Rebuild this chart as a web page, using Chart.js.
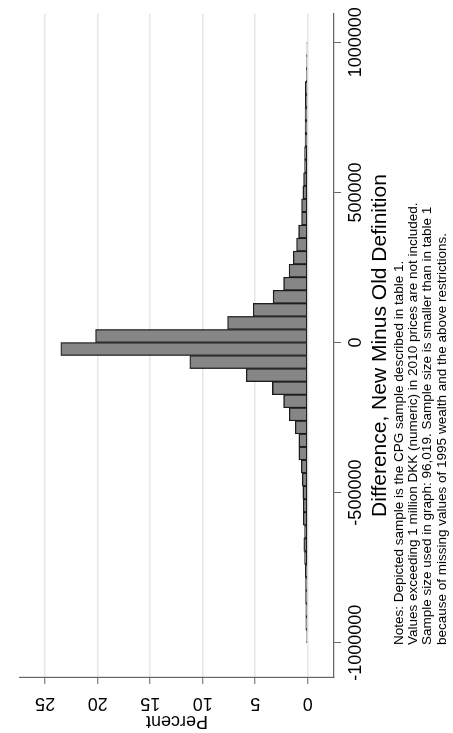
<!DOCTYPE html>
<html>
<head>
<meta charset="utf-8">
<script src="https://cdn.jsdelivr.net/npm/chart.js@4.4.1/dist/chart.umd.min.js"></script>
<style>
  html, body { margin: 0; padding: 0; background: #fff; overflow: hidden; }
  /* the graph is drawn landscape (733x453) and turned a quarter left */
  #frame { position: absolute; left: 0; top: 0; width: 733px; height: 453px;
           transform-origin: 0 0; transform: translate(0, 733px) rotate(-90deg); }
  #chart { position: absolute; left: 0; top: 0; }
  #notes { position: absolute; left: 88px; top: 392px; color: #000; white-space: pre;
           font: 13.5px "Liberation Sans", Arial, sans-serif; line-height: 14.2px; }
</style>
</head>
<body>
<div id="frame">
  <canvas id="chart" width="733" height="453"></canvas>
  <div id="notes"></div>
</div>
<script>
// histogram bins run from binLow to binHigh, one value per bin (percent)
const binLow = -1000000;
const binHigh = 1000000;
const percent = [
  0.10, 0.18, 0.18, 0.20, 0.20, 0.22, 0.31, 0.38, 0.30, 0.43, 0.43, 0.46,
  0.52, 0.61, 0.84, 0.84, 1.18, 1.75, 2.29, 3.36, 5.85, 11.22, 23.5,
  20.2, 7.63, 5.19, 3.29, 2.29, 1.77, 1.37, 1.07, 0.86, 0.58, 0.58, 0.46,
  0.40, 0.31, 0.31, 0.25, 0.25, 0.25, 0.22, 0.22, 0.13, 0.10, 0.08
];
const xTicks = [-1000000, -500000, 0, 500000, 1000000];
const yTicks = [0, 5, 10, 15, 20, 25];
const xTitle = 'Difference, New Minus Old Definition';
const yTitle = 'Percent';
const noteLines = [
  'Notes: Depicted sample is the CPG sample described in table 1.',
  'Values exceeding 1 million DKK (numeric) in 2010 prices are not included.',
  'Sample size used in graph: 96,019. Sample size is smaller than in table 1',
  'because of missing values of 1995 wealth and the above restrictions.'
];

document.getElementById('notes').textContent = noteLines.join('\n');

const binWidth = (binHigh - binLow) / percent.length;
const points = percent.map((p, i) => ({ x: binLow + (i + 0.5) * binWidth, y: p }));

Chart.defaults.font.family = '"Liberation Sans", Arial, sans-serif';
Chart.defaults.color = '#000';

const ctx = document.getElementById('chart').getContext('2d');
new Chart(ctx, {
  type: 'bar',
  data: {
    datasets: [{
      data: points,
      backgroundColor: '#868686',
      borderColor: '#1c1c1c',
      borderWidth: 1.3,
      borderSkipped: false,
      barPercentage: 1,
      categoryPercentage: 1
    }]
  },
  options: {
    responsive: false,
    animation: false,
    devicePixelRatio: 1,
    layout: { padding: { top: 7, right: 14, bottom: 0, left: 0 } },
    plugins: { legend: { display: false }, tooltip: { enabled: false } },
    scales: {
      x: {
        type: 'linear',
        min: -1114260,
        max: 1094270,
        offset: false,
        afterBuildTicks: s => { s.ticks = xTicks.map(v => ({ value: v })); },
        afterFit: s => { s.height = 119; },
        grid: { offset: false, drawOnChartArea: false, tickLength: 7, tickColor: '#666', tickWidth: 1 },
        border: { color: '#666', width: 1.2 },
        ticks: { font: { size: 18 }, padding: 4, maxRotation: 0, autoSkip: false, callback: v => String(v) },
        title: { display: true, text: xTitle, font: { size: 21 }, padding: { top: 0, bottom: 60 } }
      },
      y: {
        min: -2.5,
        max: 27.41,
        afterBuildTicks: s => { s.ticks = yTicks.map(v => ({ value: v })); },
        afterFit: s => { s.width = 56; },
        grid: { color: '#e6e6e6', lineWidth: 1.5, tickLength: 7, tickColor: '#666', tickWidth: 1 },
        border: { color: '#666', width: 1.2 },
        ticks: { font: { size: 18 }, padding: 9, minRotation: 90, maxRotation: 90, crossAlign: 'center', autoSkip: false },
        title: { display: true, text: yTitle, font: { size: 18 }, padding: { top: 1, bottom: 0 } }
      }
    }
  }
});
</script>
</body>
</html>
